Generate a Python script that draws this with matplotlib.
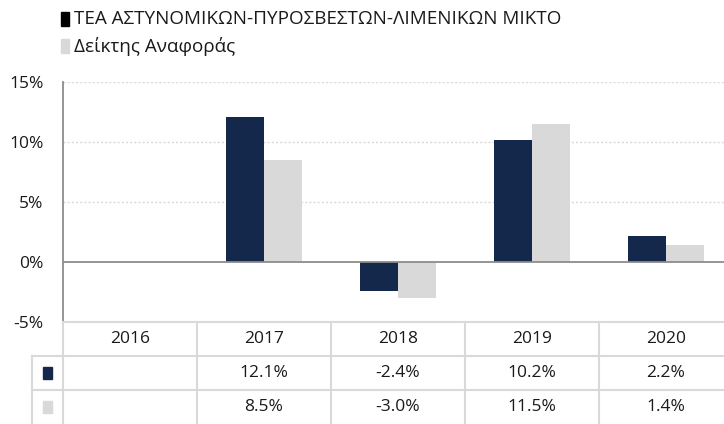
import matplotlib.pyplot as plt
from matplotlib.patches import Rectangle

plt.rcParams['font.family'] = ['Open Sans', 'DejaVu Sans']

years = ['2016', '2017', '2018', '2019', '2020']
fund = [None, 12.1, -2.4, 10.2, 2.2]
bench = [None, 8.5, -3.0, 11.5, 1.4]
fund_name = 'ΤΕΑ ΑΣΤΥΝΟΜΙΚΩΝ-ΠΥΡΟΣΒΕΣΤΩΝ-ΛΙΜΕΝΙΚΩΝ ΜΙΚΤΟ'
bench_name = 'Δείκτης Αναφοράς'
yticks = [-5, 0, 5, 10, 15]

dark = '#13284a'
light = '#d9d9d9'
grid_c = '#d9d9d9'
txt_c = '#1a1a1a'
fs = 12.5

W, H = 724, 424
fig = plt.figure(figsize=(W / 100, H / 100), dpi=100)

# plot area in pixels
left, right, top, bottom = 63, 733, 82, 322
ax = fig.add_axes([left / W, 1 - bottom / H, (right - left) / W, (bottom - top) / H])

x = list(range(len(years)))
bw = 0.285
for i in x:
    if fund[i] is not None:
        ax.bar(i - bw / 2, fund[i], bw, color=dark, zorder=3)
    if bench[i] is not None:
        ax.bar(i + bw / 2, bench[i], bw, color=light, zorder=3)

ax.set_xlim(-0.5, len(years) - 0.5)
ax.set_ylim(-5, 15)
ax.set_yticks(yticks)
ax.set_yticklabels([f'{t}%' for t in yticks], fontsize=fs, color=txt_c)
ax.tick_params(axis='y', length=0, pad=14)
ax.set_xticks([])
for yv in [5, 10, 15]:
    ax.axhline(yv, color=grid_c, lw=1, ls=(0, (1.5, 1.5)), zorder=1)
ax.axhline(0, color='#8c8c8c', lw=1.3, zorder=4)
for s in ['top', 'right', 'bottom']:
    ax.spines[s].set_visible(False)
ax.spines['left'].set_color('#8c8c8c')
ax.spines['left'].set_linewidth(1.3)

# data table below the plot
tab = fig.add_axes([left / W, 0, (right - left) / W, (H - bottom) / H])
tab.set_xlim(-0.5, len(years) - 0.5)
tab.set_ylim(0, 3)
tab.axis('off')
line_kw = dict(color=grid_c, lw=1.5, clip_on=False)
ext = -0.5 - (left - 32) / (right - left) * len(years)
tab.plot([-0.5, 4.5], [3, 3], **line_kw)
tab.plot([ext, 4.5], [2, 2], **line_kw)
tab.plot([ext, 4.5], [1, 1], **line_kw)
tab.plot([ext, ext], [0, 2], **line_kw)
for i in range(len(years) + 1):
    tab.plot([i - 0.5, i - 0.5], [0, 3], **line_kw)

for i, yr in enumerate(years):
    tab.text(i, 2.5, yr, ha='center', va='center', fontsize=fs, color=txt_c)
    if fund[i] is not None:
        tab.text(i, 1.5, f'{fund[i]:.1f}%', ha='center', va='center', fontsize=fs, color=txt_c)
    if bench[i] is not None:
        tab.text(i, 0.5, f'{bench[i]:.1f}%', ha='center', va='center', fontsize=fs, color=txt_c)

mx = (ext + (-0.5)) / 2
msz = 0.068
tab.add_patch(Rectangle((mx - msz / 2, 1.5 - 0.17), msz, 0.34, color=dark, clip_on=False))
tab.add_patch(Rectangle((mx - msz / 2, 0.5 - 0.17), msz, 0.34, color=light, clip_on=False))

# legend at the top
fig.patches.append(Rectangle((61 / W, 1 - 26 / H), 8 / W, 14 / H, color='#000000', transform=fig.transFigure))
fig.patches.append(Rectangle((61 / W, 1 - 53 / H), 8 / W, 14 / H, color=light, transform=fig.transFigure))
fig.text(74 / W, 1 - 19 / H, fund_name, fontsize=13.6, va='center', color=txt_c)
fig.text(74 / W, 1 - 46 / H, bench_name, fontsize=13.6, va='center', color=txt_c)

fig.savefig('out.png', dpi=100)
